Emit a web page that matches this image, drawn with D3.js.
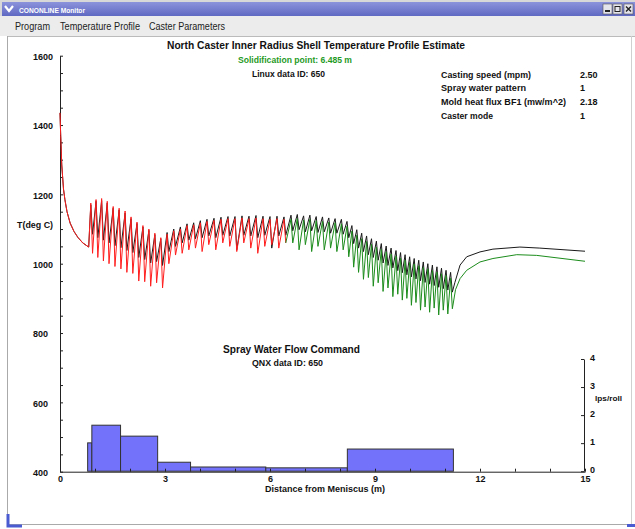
<!DOCTYPE html>
<html>
<head>
<meta charset="utf-8">
<script src="https://cdn.jsdelivr.net/npm/d3@7"></script>
<style>
    body { margin: 0; background: #fff; }
    svg text { font-family: "Liberation Sans", Arial, Helvetica, sans-serif; }
</style>
</head>
<body>
<div id="chart"></div>
<script>
// values (x in m from meniscus, T in deg C)
const moldCurve = [[0, 1435], [0.02, 1370], [0.05, 1285], [0.10, 1215], [0.14, 1185], [0.20, 1150], [0.29, 1117], [0.40, 1093], [0.51, 1076], [0.65, 1060], [0.82, 1048]];

const rollX = [
    0.88, 1.03, 1.19, 1.35, 1.52, 1.69, 1.86, 2.03, 2.20, 2.37, 2.54, 2.71, 2.88,
    3.06, 3.25, 3.44, 3.63, 3.82, 4.01, 4.20, 4.40, 4.60, 4.80, 5.00, 5.20, 5.40, 5.60, 5.80, 6.00, 6.20, 6.40,
    6.60, 6.78, 6.96, 7.14, 7.32, 7.50, 7.68, 7.86, 8.04,
    8.20, 8.34, 8.48, 8.62, 8.76, 8.90, 9.04, 9.18, 9.32, 9.46, 9.60, 9.73, 9.86, 9.99,
    10.12, 10.25, 10.38, 10.51, 10.64, 10.77, 10.90, 11.03, 11.16
];

const shellPeak = [
    1175, 1185, 1188, 1180, 1165, 1160, 1152, 1135, 1120, 1110, 1100, 1088, 1075,
    1085, 1095, 1100, 1110, 1112, 1118, 1122, 1125, 1128, 1130, 1130, 1132, 1130, 1132, 1130, 1128, 1130, 1128,
    1128, 1130, 1126, 1128, 1124, 1122, 1120, 1118, 1115,
    1108, 1094, 1082, 1072, 1064, 1056, 1048, 1041, 1034, 1028, 1022, 1016, 1010, 1004,
    999, 994, 989, 985, 980, 976, 971, 966, 958
];
const shellTrough = [
    1030, 1018, 1008, 1000, 992, 985, 975, 972, 950, 948, 935, 945, 930,
    1000, 1025, 1030, 1040, 1045, 1035, 1055, 1040, 1060, 1050, 1035, 1060, 1045, 1030, 1050, 1055, 1045, 1060,
    1060, 1040, 1055, 1035, 1050, 1040, 1045, 1035, 1040,
    1020, 990, 975, 955, 960, 935, 945, 920, 930, 905, 912, 895, 900, 880,
    888, 866, 875, 860, 872, 852, 866, 855, 870
];

const blackPeak = [
    1170, 1180, 1182, 1175, 1160, 1155, 1146, 1130, 1116, 1106, 1096, 1084, 1072,
    1090, 1100, 1106, 1115, 1118, 1124, 1128, 1131, 1134, 1136, 1136, 1138, 1137, 1139, 1137, 1136, 1137, 1135,
    1140, 1142, 1138, 1140, 1136, 1135, 1132, 1130, 1128,
    1122, 1110, 1098, 1088, 1080, 1072, 1065, 1058, 1051, 1045, 1038, 1032, 1026, 1020,
    1015, 1010, 1005, 1000, 996, 991, 987, 981, 975
];
const blackTrough = [
    1085, 1075, 1068, 1060, 1052, 1046, 1038, 1032, 1018, 1012, 1002, 1006, 995,
    1035, 1050, 1060, 1068, 1072, 1075, 1080, 1075, 1082, 1080, 1040, 1082, 1080, 1075, 1082, 1045, 1080, 1082,
    1095, 1098, 1092, 1095, 1090, 1092, 1088, 1088, 1085,
    1075, 1058, 1045, 1035, 1026, 1018, 1010, 1002, 995, 988, 980, 974, 968, 962,
    956, 951, 946, 941, 937, 932, 928, 924, 918
];

const blackTail = [[11.28, 945], [11.43, 996], [11.62, 1020], [12.0, 1034], [12.37, 1042], [13.14, 1048], [13.71, 1045], [15.0, 1036]];
const shellTail = [[11.30, 925], [11.43, 957], [11.62, 981], [12.0, 1005], [12.37, 1015], [13.05, 1026], [13.62, 1024], [15.0, 1007]];

const solidPoint = 6.485;

// spray zones: start (m), end (m), flow (lps/roll)
const zoneStart = [0.79, 0.91, 1.73, 2.79, 3.73, 5.88, 8.21];
const zoneEnd   = [0.91, 1.73, 2.79, 3.73, 5.88, 8.21, 11.24];
const zoneFlow  = [1.01, 1.64, 1.25, 0.32, 0.15, 0.12, 0.79];

const xTickLabels = [0, 3, 6, 9, 12, 15];
const tempTickLabels = [400, 600, 800, 1000, 1200, 1400, 1600];
const flowTickLabels = [0, 1, 2, 3, 4];

const infoLabels = ["Casting speed (mpm)", "Spray water pattern", "Mold heat flux BF1 (mw/m^2)", "Caster mode"];
const infoValues = ["2.50", "1", "2.18", "1"];
const menuItems = ["Program", "Temperature Profile", "Caster Parameters"];

const SPIKE = 0.05; // trough sits just after each roll peak

class ShellProfileChart {
    constructor(selector) {
        this.width = 635;
        this.height = 529;

        this.svg = d3.select(selector).append("svg")
            .attr("width", this.width)
            .attr("height", this.height);

        this.drawWindow()
            .createScales()
            .drawBars()
            .drawAxes()
            .drawLines()
            .drawTexts();
    }

    text(str, x, y, size, len, opts = {}) {
        const t = this.svg.append("text")
            .attr("x", x)
            .attr("y", y)
            .attr("font-size", size)
            .attr("font-weight", opts.weight || "bold")
            .attr("fill", opts.fill || "#111")
            .text(str);
        if (len) t.attr("textLength", len).attr("lengthAdjust", "spacingAndGlyphs");
        return t;
    }

    drawWindow() {
        const svg = this.svg;
        svg.append("rect").attr("width", this.width).attr("height", this.height).attr("fill", "#fff");

        // title bar
        const grad = svg.append("defs").append("linearGradient")
            .attr("id", "tb").attr("x1", 0).attr("y1", 0).attr("x2", 0).attr("y2", 1);
        grad.append("stop").attr("offset", "0%").attr("stop-color", "#8c93dc");
        grad.append("stop").attr("offset", "100%").attr("stop-color", "#5f69c2");
        svg.append("rect").attr("x", 0).attr("y", 0).attr("width", this.width).attr("height", 16)
            .attr("fill", "#d8d8d8");
        svg.append("rect").attr("x", 2).attr("y", 2).attr("width", this.width - 2).attr("height", 14)
            .attr("fill", "url(#tb)");
        svg.append("path").attr("d", "M5,6 L9,11 L13,6").attr("stroke", "#fff")
            .attr("stroke-width", 2.2).attr("fill", "none");
        this.text("CONONLINE Monitor", 19, 12.5, 8, 66, {fill: "#fff"});

        [603, 613, 624].forEach((bx, i) => {
            svg.append("rect").attr("x", bx).attr("y", 4).attr("width", 9).attr("height", 10)
                .attr("fill", "#e4e4ec").attr("stroke", "#555").attr("stroke-width", 0.6);
            if (i === 0) svg.append("rect").attr("x", bx + 2).attr("y", 10).attr("width", 5).attr("height", 2).attr("fill", "#222");
            if (i === 1) svg.append("rect").attr("x", bx + 2).attr("y", 6.5).attr("width", 5).attr("height", 5)
                .attr("fill", "none").attr("stroke", "#222");
            if (i === 2) svg.append("path").attr("d", `M${bx + 2},6.5 L${bx + 7},11.5 M${bx + 7},6.5 L${bx + 2},11.5`)
                .attr("stroke", "#222").attr("stroke-width", 1.4);
        });

        // menu bar
        svg.append("rect").attr("x", 0).attr("y", 16).attr("width", this.width).attr("height", 20)
            .attr("fill", "#ececec");
        const menuX = [15, 60, 149];
        const menuW = [35, 80, 76];
        menuItems.forEach((m, i) => this.text(m, menuX[i], 30, 10, menuW[i], {weight: "normal", fill: "#222"}));

        // frame
        svg.append("line").attr("x1", 7).attr("x2", this.width).attr("y1", 36.5).attr("y2", 36.5).attr("stroke", "#bbb");
        svg.append("line").attr("x1", 7.5).attr("x2", 7.5).attr("y1", 36).attr("y2", 525).attr("stroke", "#aaa");
        svg.append("line").attr("x1", 7).attr("x2", this.width).attr("y1", 524.5).attr("y2", 524.5).attr("stroke", "#aaa");
        svg.append("line").attr("x1", 631.5).attr("x2", 631.5).attr("y1", 36).attr("y2", 525).attr("stroke", "#d0d0d0");
        svg.append("path").attr("d", "M8,514 L8,526 L22,526").attr("stroke", "#4a5ad0")
            .attr("stroke-width", 3).attr("fill", "none");
        svg.append("rect").attr("x", 627).attr("y", 524).attr("width", 8).attr("height", 3).attr("fill", "#4a5ad0");

        return this;
    }

    createScales() {
        this.x = d3.scaleLinear().domain([0, 15]).range([60, 585]);
        this.yTemp = d3.scaleLinear().domain([400, 1600]).range([471.7, 55.7]);
        this.yFlow = d3.scaleLinear().domain([0, 4]).range([471.2, 359]);
        return this;
    }

    drawBars() {
        const chart = this;
        this.svg.selectAll(".zone")
            .data(zoneFlow)
            .enter().append("rect")
            .attr("class", "zone")
            .attr("x", (d, i) => chart.x(zoneStart[i]))
            .attr("width", (d, i) => chart.x(zoneEnd[i]) - chart.x(zoneStart[i]))
            .attr("y", d => chart.yFlow(d))
            .attr("height", d => chart.yFlow(0) - chart.yFlow(d))
            .attr("fill", "#7272fb")
            .attr("stroke", "#333")
            .attr("stroke-width", 1);
        return this;
    }

    drawAxes() {
        const styleAxis = g => {
            g.select(".domain").attr("stroke", "#222");
            g.selectAll(".tick line").attr("stroke", "#222");
            g.selectAll("text").attr("font-size", 9).attr("font-weight", "bold").attr("fill", "#111")
                .attr("font-family", "Liberation Sans, Arial, sans-serif");
        };

        const left = this.svg.append("g")
            .attr("transform", `translate(${this.x(0)},0)`)
            .call(d3.axisLeft(this.yTemp)
                .tickValues(d3.range(400, 1601, 50))
                .tickSizeInner(-3).tickSizeOuter(0)
                .tickFormat(d => tempTickLabels.includes(d) ? d : ""));
        styleAxis(left);
        left.selectAll("text").attr("x", -27).attr("dy", "0.42em").attr("text-anchor", "start");

        const bottom = this.svg.append("g")
            .attr("transform", `translate(0,${this.yTemp(400)})`)
            .call(d3.axisBottom(this.x)
                .tickValues(d3.range(0, 16))
                .tickSizeInner(-3).tickSizeOuter(0).tickPadding(4)
                .tickFormat(d => xTickLabels.includes(d) ? d : ""));
        styleAxis(bottom);

        const right = this.svg.append("g")
            .attr("transform", `translate(${this.x(15) - 1},0)`)
            .call(d3.axisRight(this.yFlow)
                .tickValues(flowTickLabels)
                .tickFormat(d3.format("d"))
                .tickSizeInner(-3).tickSizeOuter(0).tickPadding(6));
        styleAxis(right);
        right.selectAll("text").attr("dy", "0.12em");

        return this;
    }

    zigzag(peaks, troughs) {
        const pts = [];
        rollX.forEach((x, i) => {
            pts.push([x, peaks[i]]);
            pts.push([x + SPIKE, troughs[i]]);
        });
        return pts;
    }

    drawLines() {
        const chart = this;
        const line = d3.line()
            .x(d => chart.x(d[0]))
            .y(d => chart.yTemp(d[1]));

        const black = moldCurve.concat(this.zigzag(blackPeak, blackTrough), blackTail);
        const shell = moldCurve.concat(this.zigzag(shellPeak, shellTrough), shellTail);

        const cut = shell.findIndex(d => d[0] > solidPoint);
        const liquid = shell.slice(0, cut);
        const solid = shell.slice(cut - 1);

        this.svg.append("path").datum(black).attr("d", line)
            .attr("fill", "none").attr("stroke", "#1a1a1a").attr("stroke-width", 1);
        this.svg.append("path").datum(liquid).attr("d", line)
            .attr("fill", "none").attr("stroke", "#ff1e1e").attr("stroke-width", 1);
        this.svg.append("path").datum(solid).attr("d", line)
            .attr("fill", "none").attr("stroke", "#1c8c1c").attr("stroke-width", 1);
        return this;
    }

    drawTexts() {
        this.text("North Caster Inner Radius Shell Temperature Profile Estimate", 167, 49, 10.5, 298);
        this.text("Solidification point: " + solidPoint + " m", 238, 63, 9, 114, {fill: "#1f9a1f"});
        this.text("Linux data ID: 650", 252, 77, 9, 73);

        const rowY = [77.5, 91, 105, 119];
        const labelW = [90, 85, 125, 52];
        infoLabels.forEach((l, i) => {
            this.text(l, 441, rowY[i], 9, labelW[i]);
            this.text(infoValues[i], 580, rowY[i], 9);
        });

        this.text("T(deg C)", 17, 228, 9, 36);
        this.text("Spray Water Flow Command", 223, 353, 10.5, 137);
        this.text("QNX data ID: 650", 252, 366, 9, 71);
        this.text("Distance from Meniscus (m)", 265, 492, 9, 120);
        this.text("lps/roll", 595, 401, 8, 27);
        return this;
    }
}

new ShellProfileChart("#chart");
</script>
</body>
</html>
